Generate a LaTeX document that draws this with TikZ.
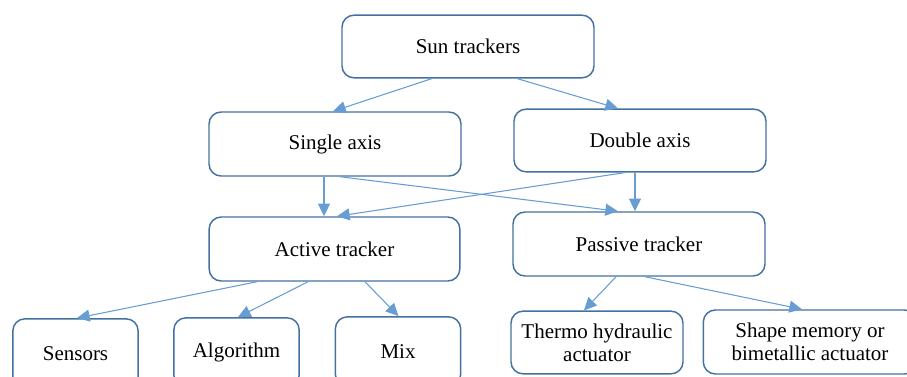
\documentclass[tikz,border=0pt]{standalone}
\usepackage{fontspec}
\setmainfont{Liberation Serif}
\usepackage{tikz}
\usetikzlibrary{arrows.meta,calc}
\definecolor{boxline}{RGB}{68,114,160}
\definecolor{arrowline}{RGB}{104,157,212}

\begin{document}
\begin{tikzpicture}[x=0.75pt,y=-0.75pt,
  treebox/.style={draw=boxline, line width=1.1pt, rounded corners=9pt, fill=white,
    align=center, inner sep=0pt, font=\fontsize{15.75}{17.5}\selectfont},
  link/.style={draw=arrowline, line width=0.8pt, -{Triangle[length=9.5pt,width=9pt]}}]
\useasboundingbox (0,0) rectangle (907,376);
\clip (0,0) rectangle (907,376);
% boxes
\node [treebox, minimum width=189pt, minimum height=47pt] (sun) at (468,46.5) {Sun trackers};
\node [treebox, minimum width=189pt, minimum height=48pt] (single) at (335,144) {Single axis};
\node [treebox, minimum width=189pt, minimum height=47pt] (double) at (640,140.5) {Double axis};
\node [treebox, minimum width=188pt, minimum height=48pt] (active) at (334.5,249) {Active tracker};
\node [treebox, minimum width=189pt, minimum height=48pt] (passive) at (639,244) {Passive tracker};
\node [treebox, minimum width=94pt, minimum height=52pt] (sensors) at (75.5,353.5) {Sensors};
\node [treebox, minimum width=94pt, minimum height=52pt] (algo) at (236.5,352.5) {Algorithm};
\node [treebox, minimum width=94pt, minimum height=52pt] (mix) at (398,351.5) {Mix};
\node [treebox, minimum width=129pt, minimum height=47pt] (thermo) at (597,342.5) {Thermo hydraulic\\actuator};
\node [treebox, minimum width=160pt, minimum height=48pt] (shape) at (810,342) {Shape memory or\\bimetallic actuator};
% links
\draw [link] ($(sun.south)+(-36,0)$) -- ($(single.north)+(-2,0)$);
\draw [link] ($(sun.south)+(49,0)$) -- ($(double.north)+(-22,0)$);
\draw [link] ($(single.south)+(-11,0)$) -- ($(active.north)+(-10.5,0)$);
\draw [link] ($(single.south)+(5,0)$) -- ($(passive.north)+(-21,0)$);
\draw [link] ($(double.south)+(-5,0)$) -- ($(passive.north)+(-4,0)$);
\draw [link] ($(double.south)+(-15,0)$) -- ($(active.north)+(2.5,0)$);
\draw [link] ($(active.south)+(-77.5,0)$) -- ($(sensors.north)+(1.5,0)$);
\draw [link] ($(active.south)+(-26.5,0)$) -- ($(algo.north)+(1.5,0)$);
\draw [link] ($(active.south)+(30.5,0)$) -- ($(mix.north)+(0.5,0)$);
\draw [link] ($(passive.south)+(-23,0)$) -- ($(thermo.north)+(-13,0)$);
\draw [link] ($(passive.south)+(6,0)$) -- ($(shape.north)+(-8,0)$);
\end{tikzpicture}
\end{document}
